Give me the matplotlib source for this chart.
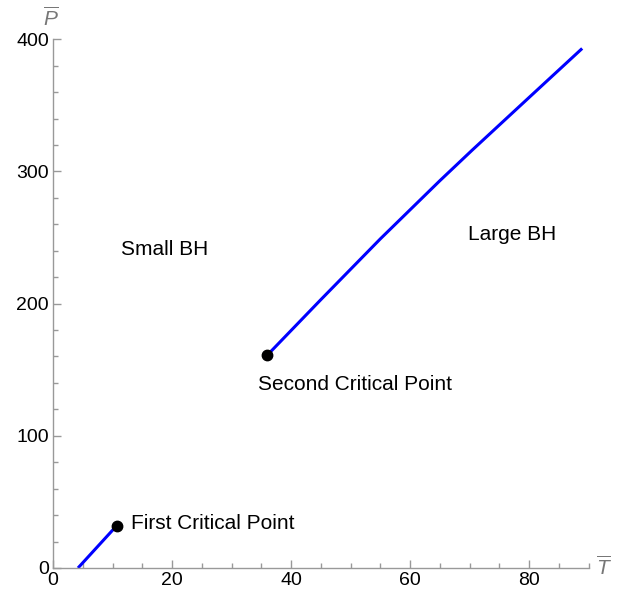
import matplotlib
matplotlib.use("Agg")
import matplotlib.pyplot as plt
from matplotlib.ticker import MultipleLocator

plt.rcParams['font.family'] = ['Liberation Sans', 'DejaVu Sans']
plt.rcParams['mathtext.fontset'] = 'custom'
plt.rcParams['mathtext.it'] = 'Liberation Sans:italic'
plt.rcParams['mathtext.rm'] = 'Liberation Sans'

# First coexistence line (ends at first critical point)
t1 = [4.2, 10.7]
p1 = [0.0, 32.0]
# Second coexistence line (starts at second critical point)
t2 = [36.0, 45.0, 55.0, 65.0, 70.4, 80.0, 88.9]
p2 = [161.0, 203.0, 249.0, 293.0, 316.0, 356.0, 393.0]

crit_t = [10.7, 36.0]
crit_p = [32.0, 161.0]

labels = ["Small BH", "Large BH", "Second Critical Point", "First Critical Point"]
label_t = [18.8, 77.1, 50.8, 13.1]
label_p = [241.0, 252.5, 139.0, 34.0]

fig = plt.figure(figsize=(6.31, 5.94), dpi=100)
ax = fig.add_axes([0.084, 0.0438, 0.849, 0.8902])

ax.plot(t1, p1, color=(0, 0, 1), lw=2.2, solid_capstyle='butt', zorder=2)
ax.plot(t2, p2, color=(0, 0, 1), lw=2.2, solid_capstyle='butt', zorder=2)
ax.plot(crit_t, crit_p, 'o', color='black', ms=7.5, zorder=3)

fs = 15
ax.text(label_t[0], label_p[0], labels[0], ha='center', va='center', fontsize=fs)
ax.text(label_t[1], label_p[1], labels[1], ha='center', va='center', fontsize=fs)
ax.text(label_t[2], label_p[2], labels[2], ha='center', va='center', fontsize=fs)
ax.text(label_t[3], label_p[3], labels[3], ha='left', va='center', fontsize=fs)

ax.set_xlim(0, 90)
ax.set_ylim(0, 400)
ax.xaxis.set_major_locator(MultipleLocator(20))
ax.xaxis.set_minor_locator(MultipleLocator(5))
ax.yaxis.set_major_locator(MultipleLocator(100))
ax.yaxis.set_minor_locator(MultipleLocator(20))

for s in ['top', 'right']:
    ax.spines[s].set_visible(False)
for s in ['left', 'bottom']:
    ax.spines[s].set_color('#999999')
    ax.spines[s].set_linewidth(1.0)

ax.tick_params(which='both', direction='in', color='#999999', labelsize=14,
               labelcolor='black', width=1.0, pad=3)
ax.tick_params(which='major', length=5.5)
ax.tick_params(which='minor', length=3.5)

fig.text(53/631 - 0.003, 1 - 18/594, r'$\overline{P}$', ha='center', va='center',
         fontsize=15, color='#777777')
fig.text(604/631, 1 - 567/594, r'$\overline{T}$', ha='center', va='center',
         fontsize=15, color='#777777')

fig.savefig('out.png', dpi=100)
